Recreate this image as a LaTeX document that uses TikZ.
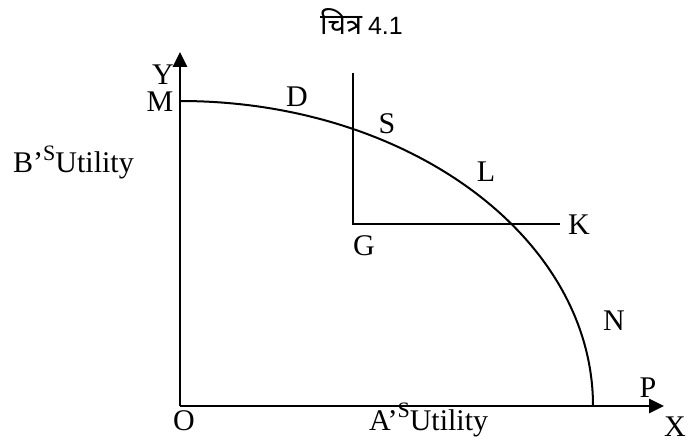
\documentclass[tikz,border=0pt]{standalone}
\usepackage{fontspec}
\setmainfont{Liberation Serif}
\newfontfamily\deva[Script=Devanagari]{Noto Sans}
\newfontfamily\arialish{Liberation Sans}
\usetikzlibrary{arrows.meta}
\tikzset{
  lbl/.style={inner sep=0pt, font=\fontsize{30}{33}\selectfont},
  axis/.style={line width=2.7pt, -{Triangle[length=15pt,width=14pt]}},
  thin/.style={line width=2pt}
}
\newcommand{\supS}{\raisebox{0.42em}{\fontsize{22}{22}\selectfont S}}
\begin{document}
\begin{tikzpicture}[x=1pt,y=-1pt]
\useasboundingbox (0,0) rectangle (690,443);
\coordinate (O) at (180,406);
\coordinate (Ytip) at (180,52);
\coordinate (Xtip) at (664,406);
\coordinate (Mpt) at (180,101);
\coordinate (Ppt) at (593,406);
\coordinate (Gtop) at (352.7,73);
\coordinate (Gpt) at (352.7,224);
\coordinate (Kend) at (560,224);
% axes
\draw[axis] (O) -- (Ytip);
\draw[axis] (O) -- (Xtip);
% utility possibility curve
\draw[thin] (Mpt) arc[start angle=-90, end angle=0, x radius=413, y radius=305];
% G corner lines
\draw[thin] (Gtop) -- (Gpt) -- (Kend);
% labels
\node[inner sep=0pt, anchor=base east] (title) at (403,35) {{\deva\fontsize{29}{32}\selectfont चित्र}\hspace{6pt}{\arialish\fontsize{25}{28}\selectfont 4.1}};
\node[lbl] (Ylab) at (163,75) {Y};
\node[lbl] (Mlab) at (160,102) {M};
\node[lbl] (Dlab) at (297,97) {D};
\node[lbl] (Slab) at (387,124) {S};
\node[lbl] (Llab) at (486,172) {L};
\node[lbl] (Glab) at (364,246) {G};
\node[lbl] (Klab) at (579,225) {K};
\node[lbl] (Nlab) at (614,321) {N};
\node[lbl] (Plab) at (648,388) {P};
\node[lbl] (Xlab) at (675,427) {X};
\node[lbl] (Olab) at (184,421) {O};
\node[lbl, anchor=base west] (Bu) at (13,173) {B’\supS Utility};
\node[lbl, anchor=base west] (Au) at (369,430) {A’\supS Utility};
\end{tikzpicture}
\end{document}
